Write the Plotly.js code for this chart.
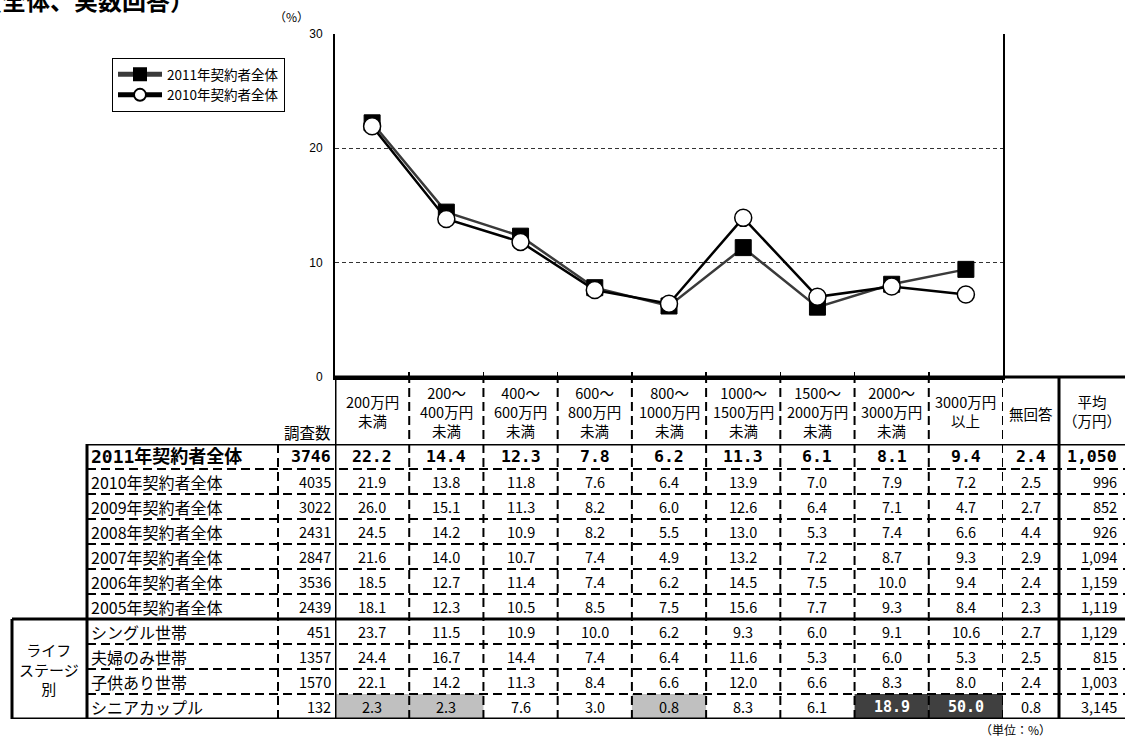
<!DOCTYPE html>
<html><head><meta charset="utf-8">
<script src="https://cdn.plot.ly/plotly-3.0.1.min.js"></script>
<style>html,body{margin:0;padding:0;background:#fff}</style>
</head><body>
<div id="chart" style="width:1125px;height:738px"></div>
<script>
// ---------- data ----------
const incomeBands = ['200万円未満','200～400万円未満','400～600万円未満','600～800万円未満','800～1000万円未満','1000～1500万円未満','1500～2000万円未満','2000～3000万円未満','3000万円以上'];
const bandHeaders = ['200万円<br>未満','200～<br>400万円<br>未満','400～<br>600万円<br>未満','600～<br>800万円<br>未満','800～<br>1000万円<br>未満','1000～<br>1500万円<br>未満','1500～<br>2000万円<br>未満','2000～<br>3000万円<br>未満','3000万円<br>以上'];
const rowLabels = ['2011年契約者全体','2010年契約者全体','2009年契約者全体','2008年契約者全体','2007年契約者全体','2006年契約者全体','2005年契約者全体','シングル世帯','夫婦のみ世帯','子供あり世帯','シニアカップル'];
const sampleN = [3746,4035,3022,2431,2847,3536,2439,451,1357,1570,132];
const s2011 = [22.2,14.4,12.3,7.8,6.2,11.3,6.1,8.1,9.4];
const s2010 = [21.9,13.8,11.8,7.6,6.4,13.9,7.0,7.9,7.2];
const s2009 = [26.0,15.1,11.3,8.2,6.0,12.6,6.4,7.1,4.7];
const s2008 = [24.5,14.2,10.9,8.2,5.5,13.0,5.3,7.4,6.6];
const s2007 = [21.6,14.0,10.7,7.4,4.9,13.2,7.2,8.7,9.3];
const s2006 = [18.5,12.7,11.4,7.4,6.2,14.5,7.5,10.0,9.4];
const s2005 = [18.1,12.3,10.5,8.5,7.5,15.6,7.7,9.3,8.4];
const sSingle = [23.7,11.5,10.9,10.0,6.2,9.3,6.0,9.1,10.6];
const sCouple = [24.4,16.7,14.4,7.4,6.4,11.6,5.3,6.0,5.3];
const sKids = [22.1,14.2,11.3,8.4,6.6,12.0,6.6,8.3,8.0];
const sSenior = [2.3,2.3,7.6,3.0,0.8,8.3,6.1,18.9,50.0];
const noAnswer = [2.4,2.5,2.7,4.4,2.9,2.4,2.3,2.7,2.5,2.4,0.8];
const avgIncome = [1050,996,852,926,1094,1159,1119,1129,815,1003,3145];
const lifeStageLabel = 'ライフ<br>ステージ<br>別';
const lifeStageFirst = 'シングル世帯';

const shareRows = [s2011,s2010,s2009,s2008,s2007,s2006,s2005,sSingle,sCouple,sKids,sSenior];

// ---------- layout helpers ----------
const W = 1125, H = 738;
const px = v => v / W;
const py = v => 1 - v / H;
const FONT = '"Noto Sans CJK JP", "Noto Sans CJK SC", sans-serif';
const MONO = '"DejaVu Sans Mono", "Noto Sans CJK JP", monospace';
const thick = {color:'#000', width:3};
const dashed = {color:'#000', width:2, dash:'9px,5px'};
const fmt1 = v => v.toFixed(1);
const fmtK = v => v.toLocaleString('en-US');

const traces = [
  {x: incomeBands, y: s2011, name: '2011年契約者全体', type:'scatter', mode:'lines+markers',
   line:{color:'#3a3a3a', width:2.5},
   marker:{symbol:'square', size:16, color:'#000', line:{color:'#000', width:1}},
   hoverinfo:'skip', cliponaxis:false},
  {x: incomeBands, y: s2010, name: '2010年契約者全体', type:'scatter', mode:'lines+markers',
   line:{color:'#000', width:2.5},
   marker:{symbol:'circle', size:17, color:'#fff', line:{color:'#000', width:1.5}},
   hoverinfo:'skip', cliponaxis:false},
  {x: [incomeBands[0]], y: [0], xaxis:'x', yaxis:'y2', type:'scatter', mode:'markers',
   marker:{opacity:0}, showlegend:false, hoverinfo:'skip'}
];

const shapes = [];
const annotations = [];
function seg(x0,x1,y0,y1,xref,yref,line){
  shapes.push({type:'line', x0, x1, y0, y1, xref, yref, line, layer:'above'});
}

// highlight cells for life stage rows relative to overall 2011 share
const lifeStart = rowLabels.indexOf(lifeStageFirst);
const cellStyle = (i,k) => {
  if (i < lifeStart) return null;
  const r = shareRows[i][k] / s2011[k];
  if (r >= 2) return 'dark';
  if (r < 0.2) return 'light';
  return null;
};
shareRows.forEach((row,i) => row.forEach((v,k) => {
  const st = cellStyle(i,k);
  if (st) shapes.push({type:'rect', xref:'x', yref:'y2', x0:k-0.5, x1:k+0.5, y0:i-0.5, y1:i+0.5,
    fillcolor: st === 'dark' ? '#404040' : '#c0c0c0', line:{width:0}, layer:'below'});
}));

// table borders
const nRows = rowLabels.length;
seg(px(335), 1, py(377), py(377), 'paper','paper', thick);
seg(px(87), 1, -0.5, -0.5, 'paper','y2', thick);
for (let i = 0; i < nRows - 1; i++) {
  if (i + 1 === lifeStart) seg(px(12), 1, i+0.5, i+0.5, 'paper','y2', thick);
  else seg(px(87), 1, i+0.5, i+0.5, 'paper','y2', dashed);
}
seg(px(12), 1, nRows-0.5, nRows-0.5, 'paper','y2', thick);
for (let k = 0; k < incomeBands.length; k++) {
  seg(k+0.5, k+0.5, py(719), py(377), 'x','paper', dashed);
}
seg(-0.5, -0.5, py(719), py(377), 'x','paper', thick);
seg(px(1059), px(1059), py(719), py(377), 'paper','paper', thick);
seg(px(278), px(278), py(719), py(444), 'paper','paper', dashed);
seg(px(87), px(87), py(719), py(444), 'paper','paper', thick);
seg(px(12), px(12), lifeStart-0.5, nRows-0.5, 'paper','y2', thick);

// header texts
bandHeaders.forEach((t,k) => annotations.push({xref:'x', yref:'paper', x:incomeBands[k], y:py(411.5),
  xanchor:'center', yanchor:'middle', text:t, showarrow:false, font:{size:14.5}}));
annotations.push({xref:'paper', yref:'paper', x:px(333), y:py(432), xanchor:'right', yanchor:'middle', text:'調査数', showarrow:false, font:{size:15.5}});
annotations.push({xref:'paper', yref:'paper', x:px(1031), y:py(413), xanchor:'center', yanchor:'middle', text:'無回答', showarrow:false, font:{size:14.5}});
annotations.push({xref:'paper', yref:'paper', x:px(1092), y:py(411.5), xanchor:'center', yanchor:'middle', text:'平均<br>（万円）', showarrow:false, font:{size:14.5}});

// body texts
rowLabels.forEach((lab,i) => {
  const bold = i === 0;
  const ft = t => bold ? '<b>' + t + '</b>' : t;
  const fLab = bold ? {size:18, family:MONO} : {size:16};
  const fNum = bold ? {size:16.5, family:MONO} : {size:14.5};
  annotations.push({xref:'paper', yref:'y2', x:px(89), y:i, xanchor:'left', yanchor:'middle', text:ft(lab), showarrow:false, font:fLab});
  annotations.push({xref:'paper', yref:'y2', x:px(333), y:i, xanchor:'right', yanchor:'middle', text:ft(String(sampleN[i])), showarrow:false, font:fNum});
  shareRows[i].forEach((v,k) => {
    const st = cellStyle(i,k);
    const dark = st === 'dark';
    annotations.push({xref:'x', yref:'y2', x:incomeBands[k], y:i, xanchor:'center', yanchor:'middle',
      text: dark ? '<b>' + fmt1(v) + '</b>' : ft(fmt1(v)), showarrow:false,
      font: dark ? {size:15, family:MONO, color:'#fff'} : fNum});
  });
  annotations.push({xref:'paper', yref:'y2', x:px(1031), y:i, xanchor:'center', yanchor:'middle', text:ft(fmt1(noAnswer[i])), showarrow:false, font:fNum});
  annotations.push({xref:'paper', yref:'y2', x:px(1119), y:i, xanchor:'right', yanchor:'middle', text:ft(fmtK(avgIncome[i])), showarrow:false, font:fNum});
});
annotations.push({xref:'paper', yref:'y2', x:px(49), y:(lifeStart + nRows - 1)/2, xanchor:'center', yanchor:'middle', text:lifeStageLabel, showarrow:false, font:{size:15}});

// misc texts
annotations.push({xref:'paper', yref:'paper', x:px(1015), y:py(729), xanchor:'center', yanchor:'middle', text:'（単位：%）', showarrow:false, font:{size:12}});
annotations.push({xref:'paper', yref:'paper', x:px(291), y:py(17), xanchor:'center', yanchor:'middle', text:'（%）', showarrow:false, font:{size:12}});
annotations.push({xref:'paper', yref:'paper', x:px(-24), y:py(-1), xanchor:'left', yanchor:'middle', text:'<b>（全体、実数回答）</b>', showarrow:false, font:{size:24}});

const layout = {
  width: W, height: H,
  margin: {l:0, r:0, t:0, b:0},
  paper_bgcolor: '#fff', plot_bgcolor: 'rgba(0,0,0,0)',
  font: {family: FONT, color:'#000', size:14},
  showlegend: true,
  legend: {x:px(112), y:py(58), xanchor:'left', yanchor:'top', bgcolor:'#fff', bordercolor:'#000', borderwidth:1,
    font:{size:13.5}, itemsizing:'constant', itemwidth:44, tracegroupgap:0},
  xaxis: {domain:[px(335), px(1003)], type:'category', categoryorder:'array', categoryarray: incomeBands,
    range:[-0.5, 8.5], showline:true, linecolor:'#000', linewidth:3, ticks:'inside', ticklen:5, tickwidth:1.5,
    tickcolor:'#000', tickson:'boundaries', showticklabels:false, showgrid:false, zeroline:false, anchor:'y', fixedrange:true},
  yaxis: {domain:[py(377), py(33.5)], range:[0,30], dtick:10, tick0:0, showline:true, linecolor:'#000', linewidth:2,
    mirror:true, ticks:'', showgrid:true, gridcolor:'#333', griddash:'4px,3px', gridwidth:1, zeroline:false,
    tickfont:{family:'"Liberation Sans", Arial, sans-serif', size:12}, ticklabelstandoff:8, anchor:'x', fixedrange:true},
  yaxis2: {domain:[py(719), py(444)], range:[nRows-0.5, -0.5], visible:false, anchor:'x', showgrid:false, zeroline:false, fixedrange:true},
  shapes, annotations
};

Plotly.newPlot('chart', traces, layout, {displayModeBar:false, staticPlot:true});
</script>
</body></html>
